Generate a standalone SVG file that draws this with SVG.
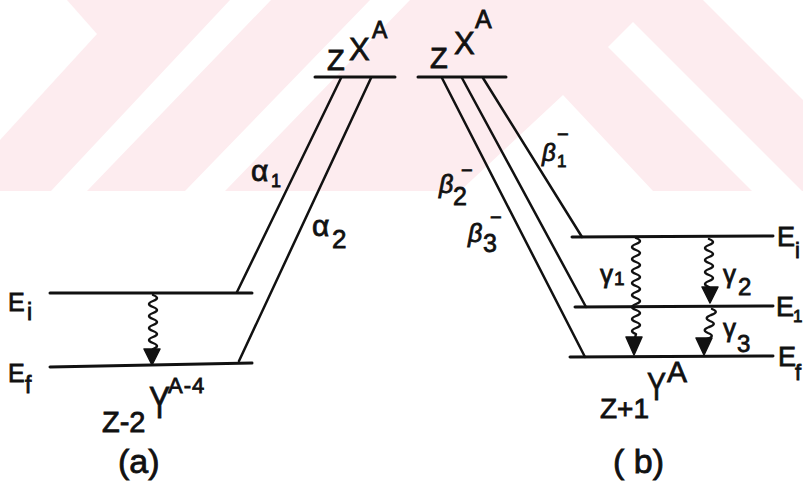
<svg xmlns="http://www.w3.org/2000/svg" width="803" height="485" viewBox="0 0 803 485">
<style>
.lvl{stroke:#111;stroke-width:3;fill:none;stroke-linecap:round}
.ln{stroke:#111;stroke-width:2.5;fill:none;stroke-linecap:round}
.wv{stroke:#111;stroke-width:2.4;fill:none;stroke-linecap:round;stroke-linejoin:round}
.ah{fill:#111;stroke:#111;stroke-width:1.5;stroke-linejoin:round}
.t{font-family:"Liberation Sans",Arial,sans-serif;fill:#111;stroke:#111;stroke-width:0.8}
.gr{font-family:"Liberation Sans",Arial,sans-serif;fill:#111;font-style:italic;stroke:#111;stroke-width:0.8}
</style>
<rect width="803" height="485" fill="#fff"/>
<g id="watermark">
<rect x="0" y="0" width="803" height="191" fill="#fdecef"/>
<polygon fill="#fff" points="0,0 67,0 97,34 0,140"/>
<polygon fill="#fff" points="230,0 271,0 87,191 51,191"/>
<polygon fill="#fff" points="370,0 410,0 225,191 185,191"/>
<polygon fill="#fff" points="563,95 460,191 653,191"/>
<polygon fill="#fff" points="608,47 633,22 803,192 803,191 752,191"/>
<polygon fill="#fff" points="703,0 803,0 803,100"/>
</g>

<g id="parent-a">
<line class="lvl" x1="315" y1="77" x2="395" y2="77"/>
<text class="t" x="327" y="70" font-size="29">Z</text>
<text class="t" x="349" y="60" font-size="31">X</text>
<text class="t" x="372" y="38" font-size="23">A</text>
</g>
<g id="level-a-Ei">
<line class="lvl" x1="50" y1="293" x2="252" y2="293"/>
<text class="t" x="8" y="311" font-size="25">E</text>
<text class="t" x="27" y="320" font-size="23">i</text>
</g>
<g id="level-a-Ef">
<line class="lvl" x1="50" y1="367" x2="252" y2="363"/>
<text class="t" x="8" y="382" font-size="25">E</text>
<text class="t" x="25" y="393" font-size="23">f</text>
<text class="t" x="102" y="432" font-size="29">Z-2</text>
<text class="t" transform="translate(149,418) scale(0.72,1)" font-size="44">Y</text>
<text class="t" x="168" y="393" font-size="22" letter-spacing="1">A-4</text>
</g>
<g id="caption-a"><text class="t" x="118" y="473" font-size="34">(a)</text></g>

<g id="parent-b">
<line class="lvl" x1="418" y1="77" x2="506" y2="77"/>
<text class="t" x="430" y="68" font-size="29">Z</text>
<text class="t" x="454" y="54" font-size="31">X</text>
<text class="t" x="475" y="28" font-size="25">A</text>
</g>
<g id="level-b-Ei">
<line class="lvl" x1="572" y1="237" x2="773" y2="236"/>
<text class="t" x="777" y="246" font-size="27">E</text>
<text class="t" x="795" y="258" font-size="22">i</text>
</g>
<g id="level-b-E1">
<line class="lvl" x1="575" y1="307" x2="773" y2="306"/>
<text class="t" x="776" y="316" font-size="27">E</text>
<text class="t" x="793" y="322" font-size="17">1</text>
</g>
<g id="level-b-Ef">
<line class="lvl" x1="570" y1="357" x2="773" y2="356"/>
<text class="t" x="778" y="366" font-size="27">E</text>
<text class="t" x="795" y="380" font-size="22">f</text>
<text class="t" x="600" y="418" font-size="28">Z+1</text>
<text class="t" transform="translate(647,400) scale(0.75,1)" font-size="38">Y</text>
<text class="t" x="667" y="382" font-size="30">A</text>
</g>
<g id="caption-b"><text class="t" x="613" y="473" font-size="34">( b)</text></g>

<g id="connectors">
<line class="ln" x1="341" y1="78" x2="237" y2="292"/>
<line class="ln" x1="371" y1="78" x2="239" y2="361"/>
<line class="ln" x1="483" y1="78" x2="582" y2="237"/>
<line class="ln" x1="462" y1="78" x2="586" y2="307"/>
<line class="ln" x1="442" y1="78" x2="585" y2="357"/>
<path class="wv" d="M153,295 q8,3 0,6 q-8,3 0,6 q8,3 0,6 q-8,3 0,6 q8,3 0,6 q-8,3 0,6 q8,3 0,6 q-8,3 0,6 q8,3 0,6"/>
<polygon class="ah" points="144,349 160,349 152,365"/>
<path class="wv" d="M636,238 q8,3 0,6 q-8,3 0,6 q8,3 0,6 q-8,3 0,6 q8,3 0,6 q-8,3 0,6 q8,3 0,6 q-8,3 0,6 q8,3 0,6 q-8,3 0,6 q8,3 0,6 q-8,3 0,6 q8,3 0,6 q-8,3 0,6 q8,3 0,6 q-8,3 0,6 l-1,4"/>
<polygon class="ah" points="626,337 642,337 634,355"/>
<path class="wv" d="M709,239 q8,3 0,6 q-8,3 0,6 q8,3 0,6 q-8,3 0,6 q8,3 0,6 q-8,3 0,6 q8,3 0,6 q-8,3 0,6"/>
<polygon class="ah" points="702,287 718,287 710,303"/>
<path class="wv" d="M712,309 q8,3 -1,6 q-8,3 -1,6 q8,3 -1,6 q-8,3 -1,6 q8,3 -1,6"/>
<polygon class="ah" points="696,338 712,338 704,355"/>
</g>

<g id="labels">
<text class="t" x="251" y="181" font-size="30">α</text>
<text class="t" x="271" y="187" font-size="18">1</text>
<text class="t" x="312" y="236" font-size="30">α</text>
<text class="t" x="332" y="248" font-size="26">2</text>
<text class="gr" x="542" y="161" font-size="24">β</text>
<text class="t" x="557" y="141" font-size="20">−</text>
<text class="t" x="557" y="167" font-size="17">1</text>
<text class="gr" x="439" y="193" font-size="25">β</text>
<text class="t" x="461" y="177" font-size="20">−</text>
<text class="t" x="453" y="205" font-size="25">2</text>
<text class="gr" x="468" y="242" font-size="25">β</text>
<text class="t" x="490" y="224" font-size="20">−</text>
<text class="t" x="483" y="252" font-size="25">3</text>
<text class="t" x="600" y="283" font-size="26">γ</text>
<text class="t" x="614" y="285" font-size="19">1</text>
<text class="t" x="723" y="283" font-size="26">γ</text>
<text class="t" x="738" y="295" font-size="24">2</text>
<text class="t" x="723" y="337" font-size="26">γ</text>
<text class="t" x="737" y="352" font-size="24">3</text>
</g>
</svg>
